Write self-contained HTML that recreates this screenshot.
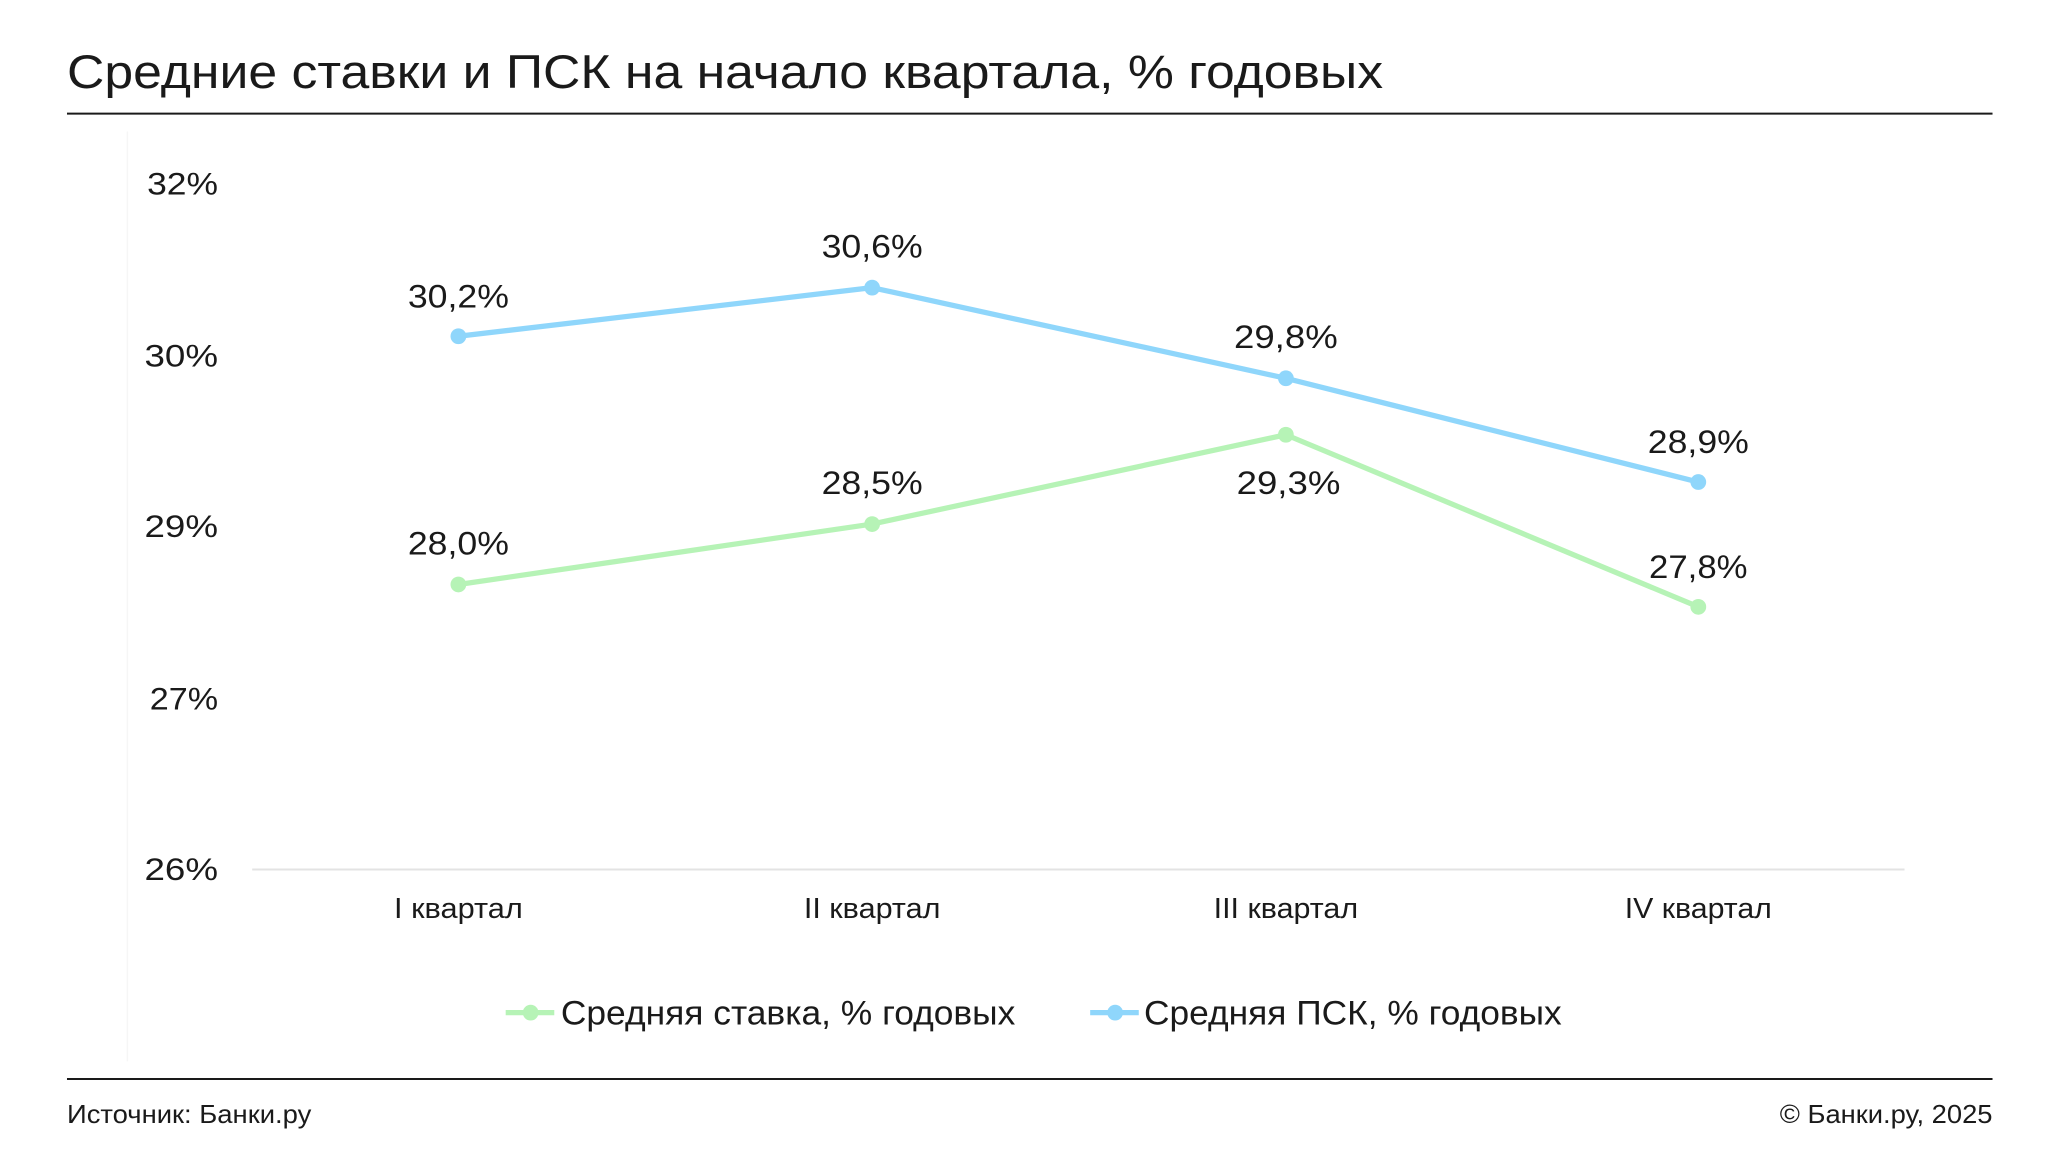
<!DOCTYPE html>
<html><head><meta charset="utf-8"><style>html,body{margin:0;padding:0;background:#fff}svg{display:block}</style></head>
<body>
<svg width="2049" height="1172" viewBox="0 0 1560 892.3" preserveAspectRatio="none" xmlns="http://www.w3.org/2000/svg" font-family="Liberation Sans, DejaVu Sans, sans-serif" fill="#1a1a1a">
<text x="51" y="67" font-size="36" textLength="1002" lengthAdjust="spacingAndGlyphs">Средние ставки и ПСК на начало квартала, % годовых</text>
<line x1="51" y1="86.5" x2="1517" y2="86.5" stroke="#1a1a1a" stroke-width="1.5"/>
<line x1="97" y1="100" x2="97" y2="808" stroke="#f6f6f6" stroke-width="1"/>
<g font-size="24" text-anchor="end">
<text x="166" y="148" textLength="54" lengthAdjust="spacingAndGlyphs">32%</text>
<text x="166" y="279" textLength="56" lengthAdjust="spacingAndGlyphs">30%</text>
<text x="166" y="409" textLength="56" lengthAdjust="spacingAndGlyphs">29%</text>
<text x="166" y="540" textLength="52" lengthAdjust="spacingAndGlyphs">27%</text>
<text x="166" y="670" textLength="56" lengthAdjust="spacingAndGlyphs">26%</text>
</g>
<line x1="192" y1="662" x2="1450" y2="662" stroke="#e3e3e3" stroke-width="1.5"/>
<g font-size="22" text-anchor="middle">
<text x="349" y="699" textLength="98" lengthAdjust="spacingAndGlyphs">I квартал</text>
<text x="664" y="699" textLength="104" lengthAdjust="spacingAndGlyphs">II квартал</text>
<text x="979" y="699" textLength="110" lengthAdjust="spacingAndGlyphs">III квартал</text>
<text x="1293" y="699" textLength="112" lengthAdjust="spacingAndGlyphs">IV квартал</text>
</g>
<polyline points="349,256 664,219 979,288 1293,367" fill="none" stroke="#8fd6fb" stroke-width="4" stroke-linejoin="round"/>
<polyline points="349,445 664,399 979,331 1293,462" fill="none" stroke="#b6f3b6" stroke-width="4" stroke-linejoin="round"/>
<g fill="#8fd6fb"><circle cx="349" cy="256" r="6"/><circle cx="664" cy="219" r="6"/><circle cx="979" cy="288" r="6"/><circle cx="1293" cy="367" r="6"/></g>
<g fill="#b6f3b6"><circle cx="349" cy="445" r="6"/><circle cx="664" cy="399" r="6"/><circle cx="979" cy="331" r="6"/><circle cx="1293" cy="462" r="6"/></g>
<g font-size="25" text-anchor="middle">
<text x="349" y="234" textLength="77" lengthAdjust="spacingAndGlyphs">30,2%</text>
<text x="664" y="196" textLength="77" lengthAdjust="spacingAndGlyphs">30,6%</text>
<text x="979" y="265" textLength="79" lengthAdjust="spacingAndGlyphs">29,8%</text>
<text x="1293" y="345" textLength="77" lengthAdjust="spacingAndGlyphs">28,9%</text>
<text x="349" y="422" textLength="77" lengthAdjust="spacingAndGlyphs">28,0%</text>
<text x="664" y="376" textLength="77" lengthAdjust="spacingAndGlyphs">28,5%</text>
<text x="981" y="376" textLength="79" lengthAdjust="spacingAndGlyphs">29,3%</text>
<text x="1293" y="440" textLength="75" lengthAdjust="spacingAndGlyphs">27,8%</text>
</g>
<line x1="385" y1="771" x2="422" y2="771" stroke="#b6f3b6" stroke-width="4"/>
<circle cx="404" cy="771" r="6" fill="#b6f3b6"/>
<text x="427" y="780" font-size="26" textLength="346" lengthAdjust="spacingAndGlyphs">Средняя ставка, % годовых</text>
<line x1="830" y1="771" x2="867" y2="771" stroke="#8fd6fb" stroke-width="4"/>
<circle cx="849" cy="771" r="6" fill="#8fd6fb"/>
<text x="871" y="780" font-size="26" textLength="318" lengthAdjust="spacingAndGlyphs">Средняя ПСК, % годовых</text>
<line x1="51" y1="821.5" x2="1517" y2="821.5" stroke="#1a1a1a" stroke-width="1.5"/>
<text x="51" y="855" font-size="20" textLength="186" lengthAdjust="spacingAndGlyphs">Источник: Банки.ру</text>
<text x="1517" y="855" font-size="20" text-anchor="end" textLength="162" lengthAdjust="spacingAndGlyphs">© Банки.ру, 2025</text>
</svg>
</body></html>
